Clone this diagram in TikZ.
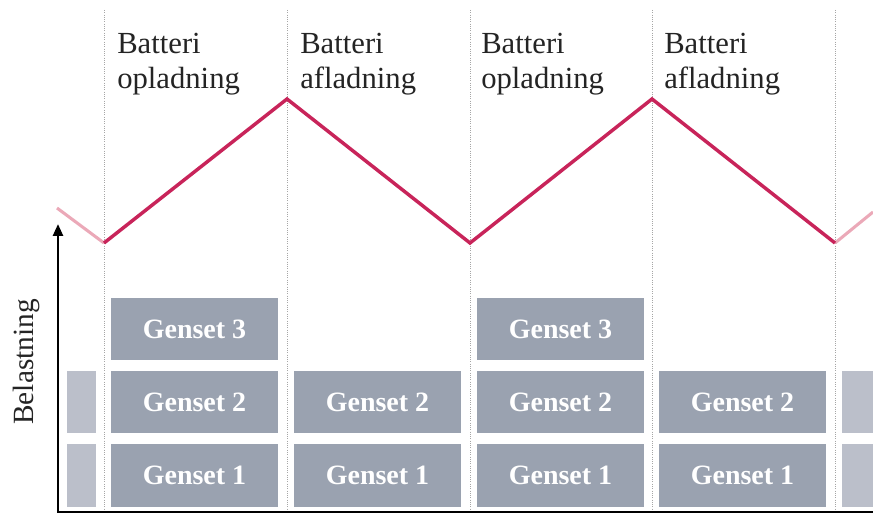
\documentclass[tikz,border=0pt]{standalone}
\usepackage{fontspec}
\setmainfont{Liberation Serif}
\usetikzlibrary{arrows.meta}
\definecolor{gensetfill}{HTML}{9AA2B0}
\definecolor{gensetpale}{HTML}{BBBFCA}
\definecolor{soc}{HTML}{C8245A}
\definecolor{socfade}{HTML}{EBA9B8}
\definecolor{labeltext}{HTML}{242424}
\tikzset{
  genset/.style={fill=gensetfill, draw=none, inner sep=0pt,
    minimum width=125.25pt, minimum height=46.8pt,
    text=white, font=\fontsize{21}{23}\selectfont\bfseries},
  partial/.style={fill=gensetpale, draw=none, inner sep=0pt,
    minimum height=46.8pt},
  phase/.style={anchor=north west, inner sep=0pt, align=left,
    text=labeltext, font=\fontsize{23}{26.5}\selectfont},
  divider/.style={gray!70, densely dotted, line width=0.7pt},
  socline/.style={soc, line width=2.6pt, line join=miter},
  socfaded/.style={socfade, line width=2.3pt},
  axis/.style={black, line width=1.9pt}
}
\begin{document}
\begin{tikzpicture}[x=0.75pt,y=-0.75pt]
\useasboundingbox (0,0) rectangle (873,516);

% dotted dividers between the phases
\foreach \xx/\nm in {104/d1,287/d2,470/d3,652/d4,835/d5}{
  \coordinate (\nm top) at (\xx,10);
  \coordinate (\nm bot) at (\xx,512);
  \draw[divider] (\nm top) -- (\nm bot);
}

% phase labels
\node[phase] (l1) at (117,33) {Batteri\\opladning};
\node[phase] (l2) at (300,33) {Batteri\\afladning};
\node[phase] (l3) at (481,33) {Batteri\\opladning};
\node[phase] (l4) at (664,33) {Batteri\\afladning};

% battery charge curve
\coordinate (s0) at (57,208);
\coordinate (s1) at (104,243);
\coordinate (s2) at (287,99);
\coordinate (s3) at (470,243);
\coordinate (s4) at (652,99);
\coordinate (s5) at (835,243);
\coordinate (s6) at (873,212);
\draw[socfaded] (s0) -- (s1);
\draw[socfaded] (s5) -- (s6);
\draw[socline] (s1) -- (s2) -- (s3) -- (s4) -- (s5);

% genset blocks
\node[genset] (g13) at (194.5,329) {Genset 3};
\node[genset] (g12) at (194.5,402) {Genset 2};
\node[genset] (g11) at (194.5,475.5) {Genset 1};
\node[genset] (g22) at (377.5,402) {Genset 2};
\node[genset] (g21) at (377.5,475.5) {Genset 1};
\node[genset] (g33) at (560.5,329) {Genset 3};
\node[genset] (g32) at (560.5,402) {Genset 2};
\node[genset] (g31) at (560.5,475.5) {Genset 1};
\node[genset] (g42) at (742.5,402) {Genset 2};
\node[genset] (g41) at (742.5,475.5) {Genset 1};

% cut-off blocks at both edges
\node[partial, minimum width=21.75pt] (pl2) at (81.5,402) {};
\node[partial, minimum width=21.75pt] (pl1) at (81.5,475.5) {};
\node[partial, minimum width=23.25pt] (pr2) at (857.5,402) {};
\node[partial, minimum width=23.25pt] (pr1) at (857.5,475.5) {};

% axes
\coordinate (origin) at (58,512);
\coordinate (ytop) at (58,224);
\coordinate (xend) at (873,512);
\draw[axis, -{Triangle[length=9pt,width=7.5pt]}] (origin) -- (ytop);
\draw[axis] ([xshift=-0.7pt]origin) -- (xend);
\node[rotate=90, text=labeltext, font=\fontsize{22}{25}\selectfont, inner sep=0pt] (ylab) at (26,362) {Belastning};
\end{tikzpicture}
\end{document}
